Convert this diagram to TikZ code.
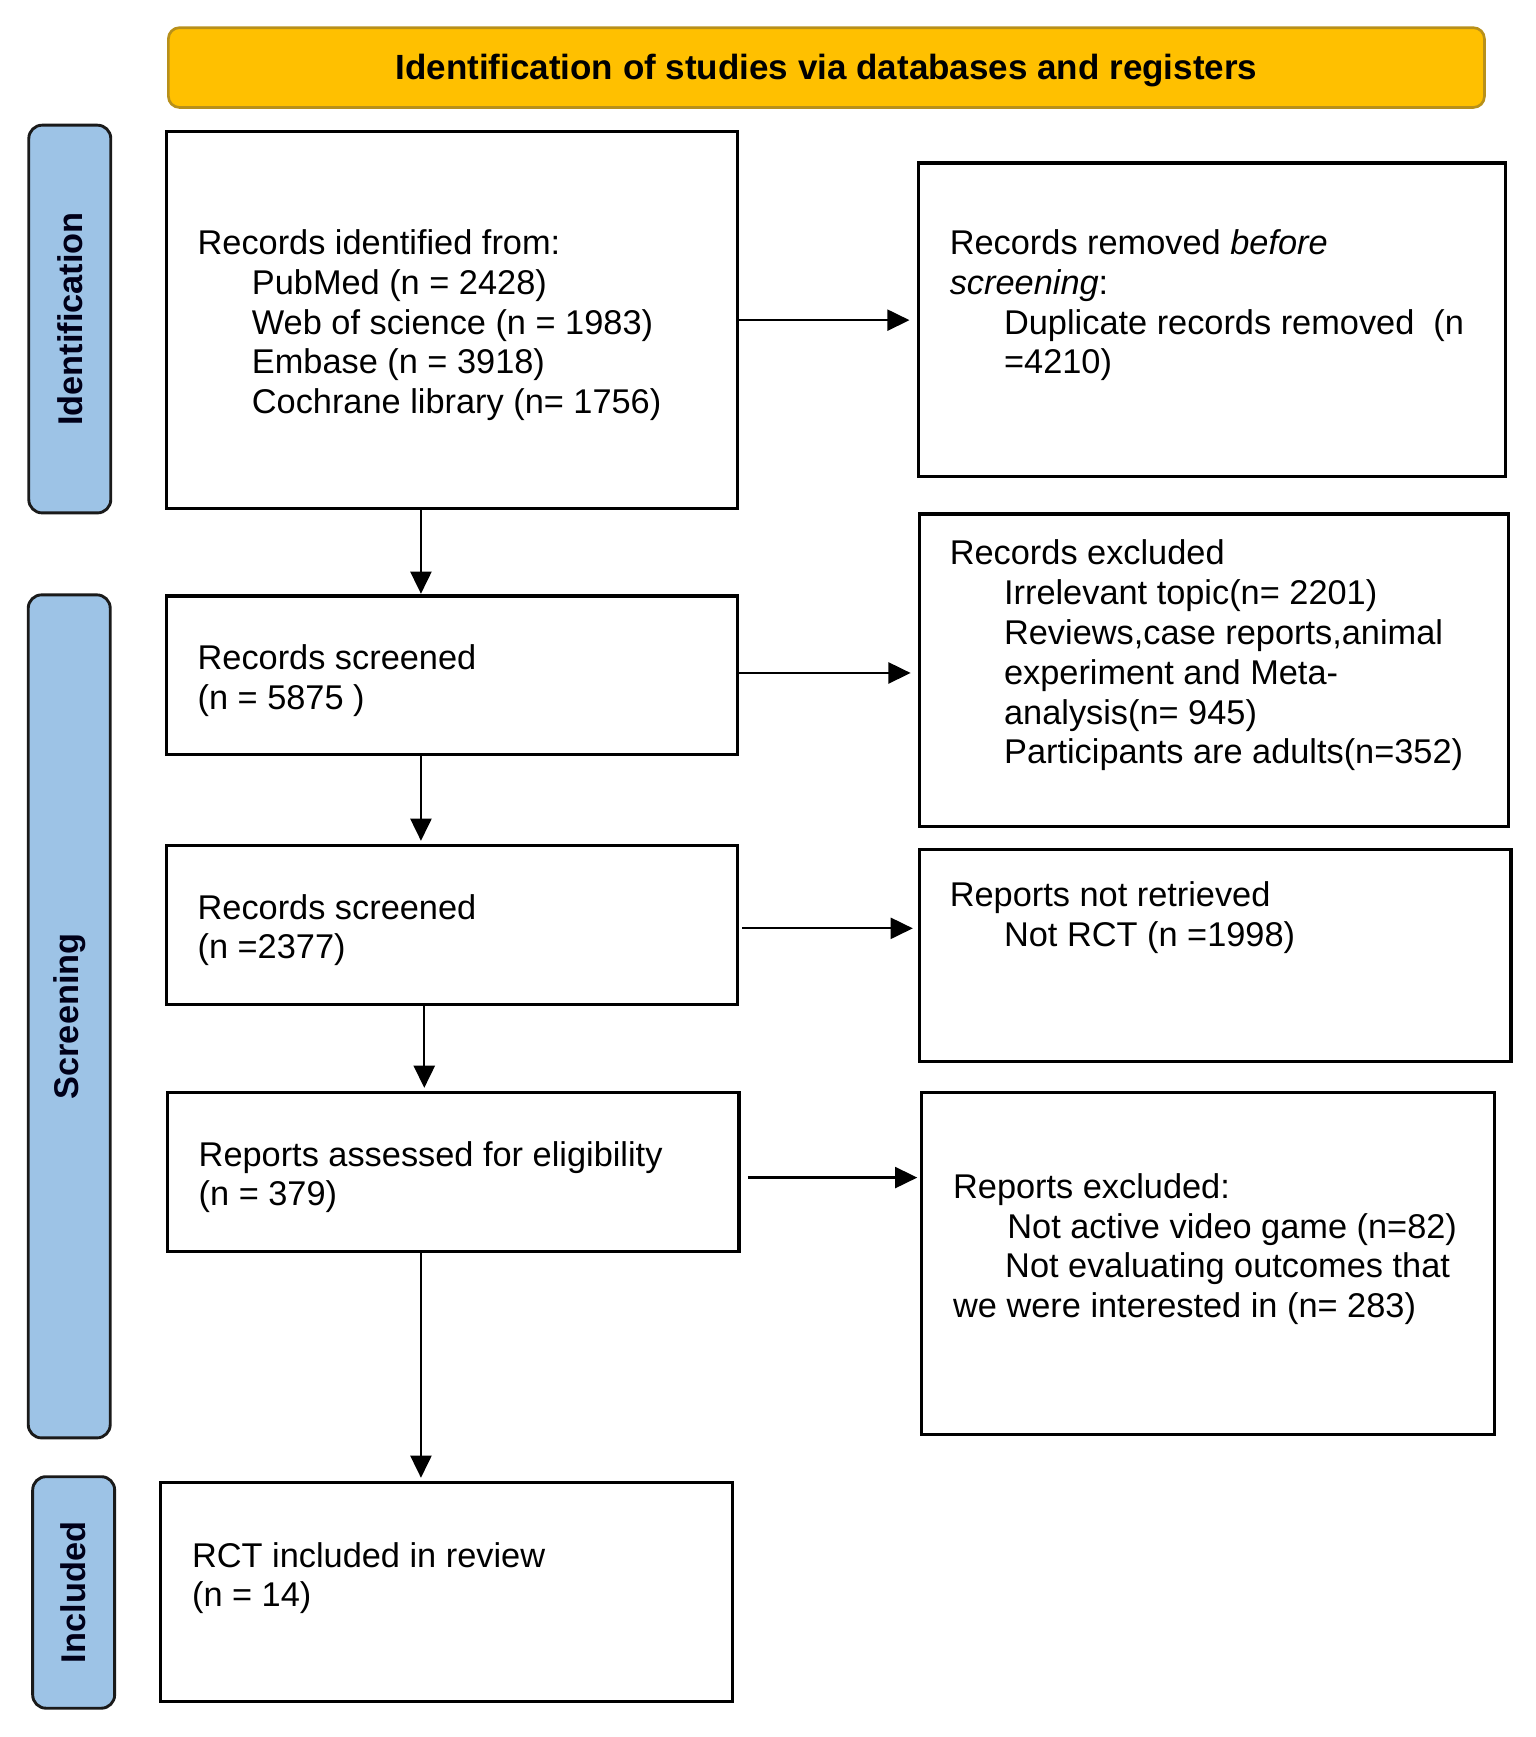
\documentclass[tikz,border=0pt]{standalone}
\usepackage{fontspec}
\setmainfont{Liberation Sans}
\usetikzlibrary{arrows.meta}
\definecolor{hdrfill}{HTML}{FFC000}
\definecolor{hdrline}{HTML}{B8901A}
\definecolor{lblfill}{HTML}{9DC3E6}
\definecolor{lblline}{HTML}{1A1A1A}
\newcommand{\ind}{\hspace*{24.5pt}}
\begin{document}
\begin{tikzpicture}[x=0.5pt,y=-0.5pt,
  every node/.style={font=\fontsize{15.5pt}{18pt}\selectfont},
  box/.style={draw=black, line width=1.5pt, fill=white, inner sep=0pt, outer sep=0pt},
  txt/.style={anchor=north west, inner sep=0pt, align=left},
  hdr/.style={draw=hdrline, line width=1.2pt, fill=hdrfill, rounded corners=5pt,
    inner sep=0pt, minimum width=594pt, minimum height=36pt},
  hdrtxt/.style={inner sep=0pt, font=\fontsize{15.8pt}{18pt}\selectfont\bfseries},
  lbl/.style={draw=lblline, line width=1.3pt, fill=lblfill, rounded corners=6pt,
    inner sep=0pt, minimum width=37pt},
  lbltxt/.style={rotate=90, inner sep=0pt, font=\fontsize{15.5pt}{18pt}\selectfont\bfseries, text=black!90!blue},
  arr/.style={line width=1pt, -{Triangle[length=10pt,width=9.5pt]}}
]
\useasboundingbox (0,0) rectangle (1386,1568);

% header
\node[hdr] (hdr) at (746,61) {};
\node[hdrtxt] (hdrt) at ([yshift=-1.5pt]hdr.center) {Identification of studies via databases and registers};

% side labels
\node[lbl, minimum height=175pt] (l1) at (63,288) {};
\node[lbltxt] (l1t) at (l1.center) {Identification};
\node[lbl, minimum height=380.5pt] (l2) at (62.5,917.5) {};
\node[lbltxt] (l2t) at (l2.center) {Screening};
\node[lbl, minimum height=104.5pt] (l3) at (66.5,1437.5) {};
\node[lbltxt] (l3t) at (l3.center) {Included};

% left column boxes
\node[box, minimum width=258pt, minimum height=170pt] (b1) at (408,289) {};
\node[box, minimum width=258pt, minimum height=71.5pt] (b2) at (408,609.5) {};
\node[box, minimum width=258pt, minimum height=72pt] (b3) at (408,835) {};
\node[box, minimum width=258pt, minimum height=72pt] (b4) at (409,1058) {};
\node[box, minimum width=258pt, minimum height=99pt] (b5) at (403,1437) {};

% right column boxes
\node[box, minimum width=265pt, minimum height=141.5pt] (r1) at (1094,288.5) {};
\node[box, minimum width=266pt, minimum height=141pt] (r2) at (1096,605) {};
\node[box, minimum width=267pt, minimum height=95.5pt] (r3) at (1097,862.5) {};
\node[box, minimum width=258.5pt, minimum height=154.5pt] (r4) at (1090.5,1140.5) {};

% texts
\node[txt] (t1) at (178,204) {\strut Records identified from:\\
  \ind PubMed (n = 2428)\\
  \ind Web of science (n = 1983)\\
  \ind Embase (n = 3918)\\
  \ind Cochrane library (n= 1756)};
\node[txt] (t2) at (178,579) {\strut Records screened\\(n = 5875 )};
\node[txt] (t3) at (178,804) {\strut Records screened\\(n =2377)};
\node[txt] (t4) at (179,1027) {\strut Reports assessed for eligibility\\(n = 379)};
\node[txt] (t5) at (173,1389) {\strut RCT included in review\\(n = 14)};

\node[txt] (tr1) at (857,204) {\strut Records removed \textit{before}\\
  \textit{screening}:\\
  \ind Duplicate records removed\ \ (n\\
  \ind =4210)};
\node[txt] (tr2) at (857,484) {\strut Records excluded\\
  \ind Irrelevant topic(n= 2201)\\
  \ind Reviews,case reports,animal\\
  \ind experiment and Meta-\\
  \ind analysis(n= 945)\\
  \ind Participants are adults(n=352)};
\node[txt] (tr3) at (857,793) {\strut Reports not retrieved\\
  \ind Not RCT (n =1998)};
\node[txt] (tr4) at (860,1056) {\strut Reports excluded:\\
  \hspace*{24.5pt}Not active video game (n=82)\\
  \hspace*{23.5pt}Not evaluating outcomes that\\
  we were interested in (n= 283)};

% connectors
\coordinate (cx) at (380,0);
\coordinate (cx3) at (383,0);
\draw[arr, shorten >=1pt] (cx |- b1.south) -- (cx |- b2.north);
\draw[arr, shorten >=2pt] (cx |- b2.south) -- (cx |- b3.north);
\draw[arr, shorten >=2pt] (cx3 |- b3.south) -- (cx3 |- b4.north);
\draw[arr, shorten >=2pt] (cx |- b4.south) -- (cx |- b5.north);

\draw[arr, shorten >=4pt] (b1.east) -- (b1.east -| r1.west);
\draw[arr, shorten >=4pt] ([yshift=1pt]b2.east) -- ([yshift=1pt]b2.east -| r2.west);
\draw[arr, shorten <=2pt, shorten >=3pt] ([yshift=-1.5pt]b3.east) -- ([yshift=-1.5pt]b3.east -| r3.west);
\draw[arr, shorten <=4pt, shorten >=2pt] ([yshift=-2.5pt]b4.east) -- ([yshift=-2.5pt]b4.east -| r4.west);
\end{tikzpicture}
\end{document}
